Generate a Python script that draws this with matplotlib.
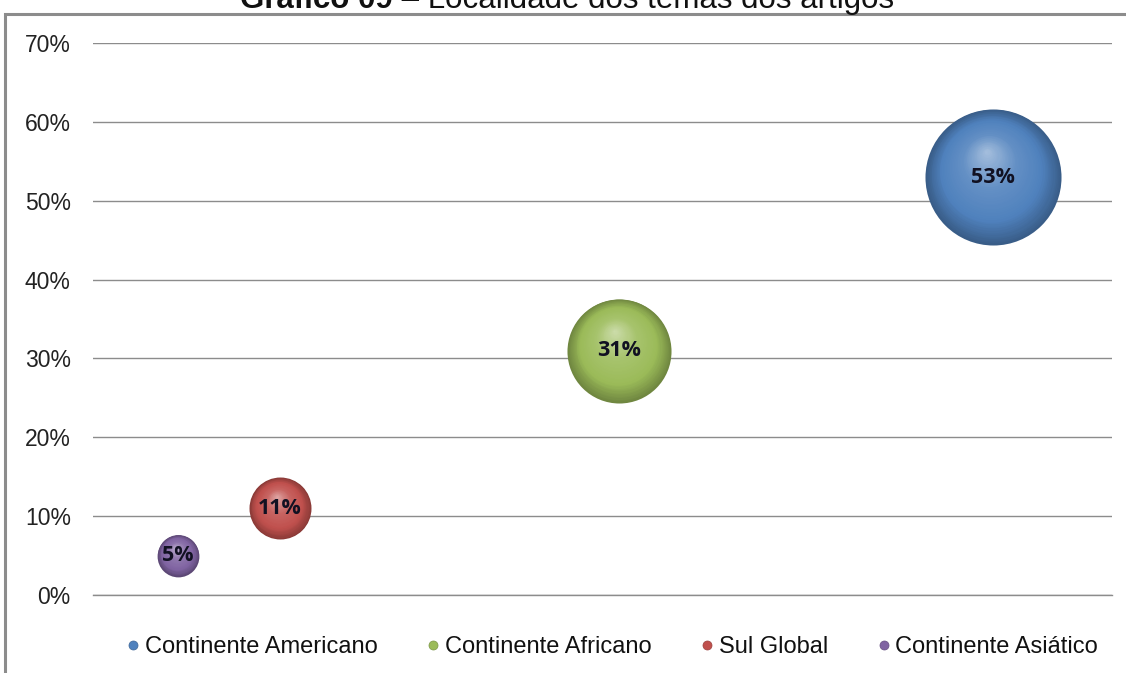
import matplotlib
matplotlib.use("Agg")
import matplotlib.pyplot as plt
import matplotlib.transforms as mtransforms
from matplotlib.patches import Rectangle
from matplotlib.lines import Line2D
import numpy as np
import matplotlib.colors as mcolors

# ---- data ----
categories = ["Continente Americano", "Continente Africano", "Sul Global", "Continente Asiático"]
x_values = [53, 31, 11, 5]
y_values = [53, 31, 11, 5]
bubble_sizes = [53, 31, 11, 5]
colors = ["#4f81bd", "#9bbb59", "#c0504d", "#8064a2"]
y_ticks = [0, 10, 20, 30, 40, 50, 60, 70]
y_tick_labels = [f"{v}%" for v in y_ticks]
title_bold = "Gráfico 09"
title_rest = " – Localidade dos temas dos artigos"

plt.rcParams["font.family"] = ["Liberation Sans", "DejaVu Sans"]

fig = plt.figure(figsize=(11.26, 6.73), dpi=100)
ax = fig.add_axes([93 / 1126, 78 / 673, (1112 - 93) / 1126, 552 / 673])
ax.set_xlim(0, 60)
ax.set_ylim(0, 70)

SIZE_SCALE = 181.0


def mix(c1, c2, t):
    a = np.array(mcolors.to_rgb(c1))
    b = np.array(mcolors.to_rgb(c2))
    return tuple(a + (b - a) * t)


def sphere(x, y, val, color):
    s = val * SIZE_SCALE
    r_pt = np.sqrt(s) / 2.0
    dark = mix(color, "black", 0.28)
    light = mix(color, "white", 0.5)
    mid = mix(color, "white", 0.12)
    N = 45
    hx, hy = -0.1 * r_pt, 0.38 * r_pt
    for k in range(N):
        t = k / N
        f = 1 - t
        if t < 0.25:
            c = mix(dark, color, t / 0.25)
        elif t < 0.6:
            c = mix(color, mid, (t - 0.25) / 0.35)
        else:
            c = mix(mid, light, (t - 0.6) / 0.4)
        tr = mtransforms.offset_copy(ax.transData, fig=fig, x=hx * t, y=hy * t, units="points")
        ax.scatter([x], [y], s=[s * f * f], color=[c], linewidths=0, transform=tr, zorder=3 + k * 0.01)


for xv, yv, sv, col in zip(x_values, y_values, bubble_sizes, colors):
    sphere(xv, yv, sv, col)
    ax.text(xv, yv, f"{sv}%", ha="center", va="center", fontsize=15.5, fontweight="bold",
            color="#111122", family=["Open Sans", "DejaVu Sans"], zorder=10)

ax.set_yticks(y_ticks)
ax.set_yticklabels(y_tick_labels)
ax.set_xticks([])
ax.tick_params(axis="y", length=0, pad=16, labelsize=16.5, labelcolor="#222222")
ax.yaxis.grid(True, color="#8c8c8c", linewidth=1)
ax.set_axisbelow(True)
for side in ["left", "right", "top"]:
    ax.spines[side].set_visible(False)
ax.spines["bottom"].set_color("#8c8c8c")
ax.spines["bottom"].set_linewidth(1)

handles = [Line2D([], [], marker="o", linestyle="", markersize=6.5, markerfacecolor=c,
                  markeredgecolor=mix(c, "black", 0.2), markeredgewidth=0.5) for c in colors]
fig.legend(handles, categories, loc="center", bbox_to_anchor=(613 / 1126, 26 / 673), ncol=4,
           frameon=False, fontsize=17, handlelength=0.45, handletextpad=0.25, columnspacing=2.15,
           labelcolor="#111111")

# title (partially cut at top, as in the original)
fig.text(393 / 1126, (673 - 8) / 673, title_bold, ha="right", va="baseline", fontsize=22.5,
         fontweight="bold", color="#111111")
fig.text(393 / 1126, (673 - 8) / 673, title_rest, ha="left", va="baseline", fontsize=22.5,
         color="#111111")

# outer chart frame
fig.add_artist(Rectangle((5 / 1126, -0.05), 1.2, (673 - 14) / 673 + 0.05, transform=fig.transFigure,
                         fill=False, edgecolor="#8c8c8c", linewidth=2.2))

fig.savefig("out.png", dpi=100)
